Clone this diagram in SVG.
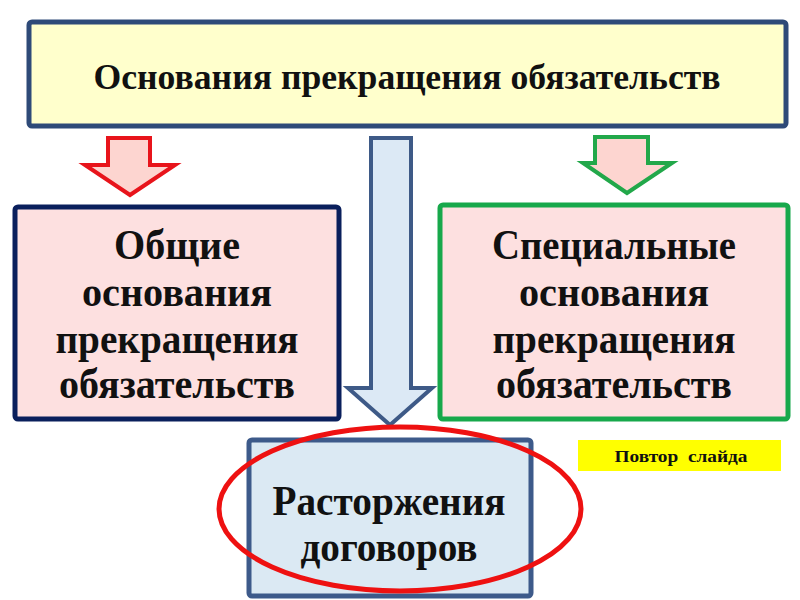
<svg xmlns="http://www.w3.org/2000/svg" width="800" height="600" viewBox="0 0 800 600">
<style>
text{font-family:"Liberation Serif","Times New Roman",serif;font-weight:bold;fill:#111;text-anchor:middle}
.big{font-size:42px}
</style>
<rect width="800" height="600" fill="#ffffff"/>
<g id="connectors">
<path d="M108,138 H150 V165 H175 L130,195 L85,165 H108 Z" fill="#fdd5d0" stroke="#e8141b" stroke-width="4" stroke-linejoin="miter"/>
<path d="M595,137 H648 V163 H672 L627,193 L583,163 H595 Z" fill="#fdd5d0" stroke="#22a84a" stroke-width="4"/>
<path d="M371,138 H411 V388 H432 L390,425 L348,388 H371 Z" fill="#dce9f5" stroke="#3e5a87" stroke-width="4"/>
</g>
<g id="top">
<rect x="29" y="22" width="757" height="104" rx="3" fill="#ffffcc" stroke="#2e4a78" stroke-width="5"/>
<text x="407" y="89" font-size="36" textLength="627" lengthAdjust="spacingAndGlyphs">Основания прекращения обязательств</text>
</g>
<g id="general">
<rect x="15" y="207" width="324" height="212" rx="3" fill="#fde0e0" stroke="#0a1f5c" stroke-width="5"/>
<text class="big" x="177" y="259" textLength="126" lengthAdjust="spacingAndGlyphs">Общие</text>
<text class="big" x="177" y="306" textLength="190" lengthAdjust="spacingAndGlyphs">основания</text>
<text class="big" x="177" y="353" textLength="243" lengthAdjust="spacingAndGlyphs">прекращения</text>
<text class="big" x="177" y="398" textLength="236" lengthAdjust="spacingAndGlyphs">обязательств</text>
</g>
<g id="special">
<rect x="440" y="205" width="348" height="214" rx="3" fill="#fde0e0" stroke="#17a84b" stroke-width="5"/>
<text class="big" x="614" y="259" textLength="244" lengthAdjust="spacingAndGlyphs">Специальные</text>
<text class="big" x="614" y="306" textLength="190" lengthAdjust="spacingAndGlyphs">основания</text>
<text class="big" x="614" y="353" textLength="243" lengthAdjust="spacingAndGlyphs">прекращения</text>
<text class="big" x="614" y="398" textLength="236" lengthAdjust="spacingAndGlyphs">обязательств</text>
</g>
<g id="termination">
<rect x="249" y="440" width="282" height="156" rx="3" fill="#dbe9f3" stroke="#3d5a8a" stroke-width="5"/>
<text class="big" x="389" y="515" textLength="233" lengthAdjust="spacingAndGlyphs">Расторжения</text>
<text class="big" x="389" y="561" textLength="177" lengthAdjust="spacingAndGlyphs">договоров</text>
<ellipse cx="400" cy="509" rx="181" ry="82" fill="none" stroke="#ee1111" stroke-width="5"/>
</g>
<g id="repeat">
<rect x="578" y="440" width="203" height="31" fill="#ffff00"/>
<text x="681" y="462" font-size="17" textLength="133" lengthAdjust="spacingAndGlyphs" xml:space="preserve">Повтор  слайда</text>
</g>
</svg>
